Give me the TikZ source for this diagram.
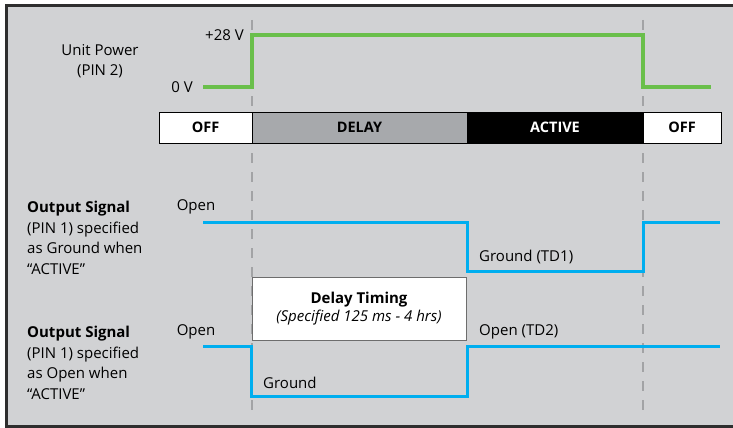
\documentclass[tikz,border=0pt]{standalone}
\usepackage{fontspec}
\setmainfont{Open Sans}
\definecolor{panelgray}{HTML}{D1D2D4}
\definecolor{delaygray}{HTML}{A7A9AC}
\definecolor{powergreen}{HTML}{6ABF4B}
\definecolor{signalblue}{HTML}{00AEEF}
\definecolor{markgray}{HTML}{A2A3A5}
\definecolor{framegray}{HTML}{2E2E2E}
\tikzset{
    power/.style={powergreen, line width=3.5pt},
    signal/.style={signalblue, line width=3pt},
    marker/.style={markgray, line width=2pt, dash pattern=on 10pt off 9pt},
    statebox/.style={draw=black, line width=1pt, minimum height=31pt, inner sep=0pt,
                     font=\fontsize{14.5}{17}\selectfont\bfseries},
    label/.style={font=\fontsize{15}{20.6}\selectfont, inner sep=0pt},
    sidetext/.style={font=\fontsize{15}{20.6}\selectfont, align=left, anchor=west, inner sep=0pt}
}
\begin{document}
\begin{tikzpicture}[x=1pt, y=-1pt]
    \useasboundingbox (0,0) rectangle (733,428);
    \draw[framegray, line width=2.6pt, fill=panelgray] (6.3,5.5) rectangle (745,426.5);

    \foreach \x in {251.5,643}
        {\draw[marker] (\x,20) -- (\x,415);}

    \node[label, align=center] (power) at (100,61) {Unit Power\\(PIN 2)};
    \node[label, anchor=east] (high) at (244,35) {+28 V};
    \node[label, anchor=east] (low) at (193,87) {0 V};
    \draw[power] (203,87) -- (252,87) -- (252,35) -- (643,35) -- (643,87) -- (711,87);

    \node[statebox, fill=white, minimum width=93pt] (off1) at (205.5,127.5) {OFF};
    \node[statebox, fill=delaygray, minimum width=215pt] (delay) at (359.5,127.5) {DELAY};
    \node[statebox, fill=black, text=white, minimum width=176pt] (active) at (555,127.5) {ACTIVE};
    \node[statebox, fill=white, minimum width=78pt] (off2) at (682,127.5) {OFF};

    \node[sidetext] (sig1) at (27,238) {\textbf{Output Signal}\\(PIN 1) specified\\as Ground when\\“ACTIVE”};
    \node[sidetext] (sig2) at (27,363) {\textbf{Output Signal}\\(PIN 1) specified\\as Open when\\“ACTIVE”};

    \node[label] (open1) at (196,207) {Open};
    \node[label, anchor=west] (gnd1) at (479,257) {Ground (TD1)};
    \draw[signal] (203,222) -- (467,222) -- (467,271) -- (643,271) -- (643,222) -- (720,222);

    \node[draw=framegray!70, line width=0.8pt, fill=white, minimum width=214pt, minimum height=63pt,
          align=center, inner sep=0pt, font=\fontsize{15}{18.5}\selectfont] (timing) at (359,308.5)
          {\textbf{Delay Timing}\\\textit{(Specified 125 ms - 4 hrs)}};

    \node[label] (open2) at (196,332) {Open};
    \node[label, anchor=west] (gnd2) at (263,383) {Ground};
    \node[label, anchor=west] (open3) at (479,332) {Open (TD2)};
    \draw[signal] (203,346) -- (251.5,346) -- (251.5,396) -- (467,396) -- (467,346) -- (720,346);
\end{tikzpicture}
\end{document}
